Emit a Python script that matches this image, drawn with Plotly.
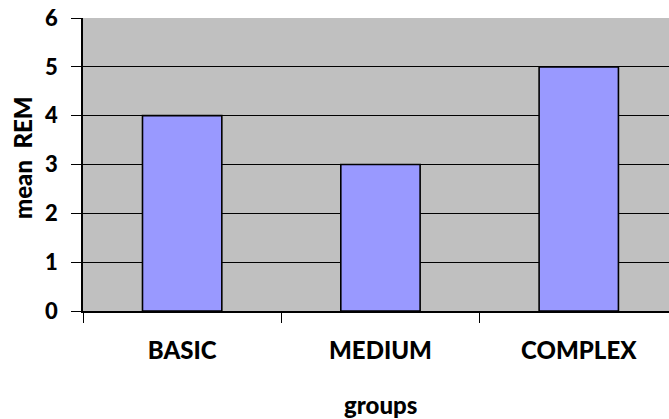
import plotly.graph_objects as go

categories = ["BASIC", "MEDIUM", "COMPLEX"]
mean_rem = [4, 3, 5]
y_ticks = [0, 1, 2, 3, 4, 5, 6]

FONT = "Lato"
W = 900

fig = go.Figure()
fig.add_trace(go.Bar(
    x=categories,
    y=mean_rem,
    width=0.4,
    marker=dict(color="#9999FF", line=dict(color="black", width=1.6)),
))

fig.update_layout(
    width=669,
    height=419,
    margin=dict(l=83, r=0, t=18, b=108),
    paper_bgcolor="white",
    plot_bgcolor="#C0C0C0",
    showlegend=False,
    font=dict(family=FONT, color="black"),
)

fig.update_xaxes(
    range=[-0.5, 2.455],
    showgrid=False,
    showline=True,
    linecolor="black",
    linewidth=1.6,
    ticks="outside",
    tickson="boundaries",
    ticklen=10,
    tickwidth=1.3,
    tickcolor="black",
    tickfont=dict(family=FONT, size=24, weight=W),
    ticklabelstandoff=17,
)

fig.update_yaxes(
    range=[0, 6],
    tickvals=y_ticks,
    showgrid=True,
    gridcolor="black",
    gridwidth=1.3,
    showline=True,
    linecolor="black",
    linewidth=1.6,
    ticks="outside",
    ticklen=10,
    tickwidth=1.3,
    tickcolor="black",
    tickfont=dict(family=FONT, size=22, weight=W),
    ticklabelstandoff=9,
    zeroline=False,
)

fig.add_annotation(
    text="groups", xref="paper", yref="paper",
    x=(380 - 83) / 586, y=-(405 - 311) / 293,
    xanchor="center", yanchor="middle", showarrow=False,
    font=dict(family=FONT, size=24, weight=W),
)
fig.add_annotation(
    text="mean  REM", xref="paper", yref="paper",
    x=-(83 - 22) / 586, y=(311 - 158) / 293,
    xanchor="center", yanchor="middle", showarrow=False, textangle=-90,
    font=dict(family=FONT, size=24, weight=W),
)

fig.write_html("out.html")
